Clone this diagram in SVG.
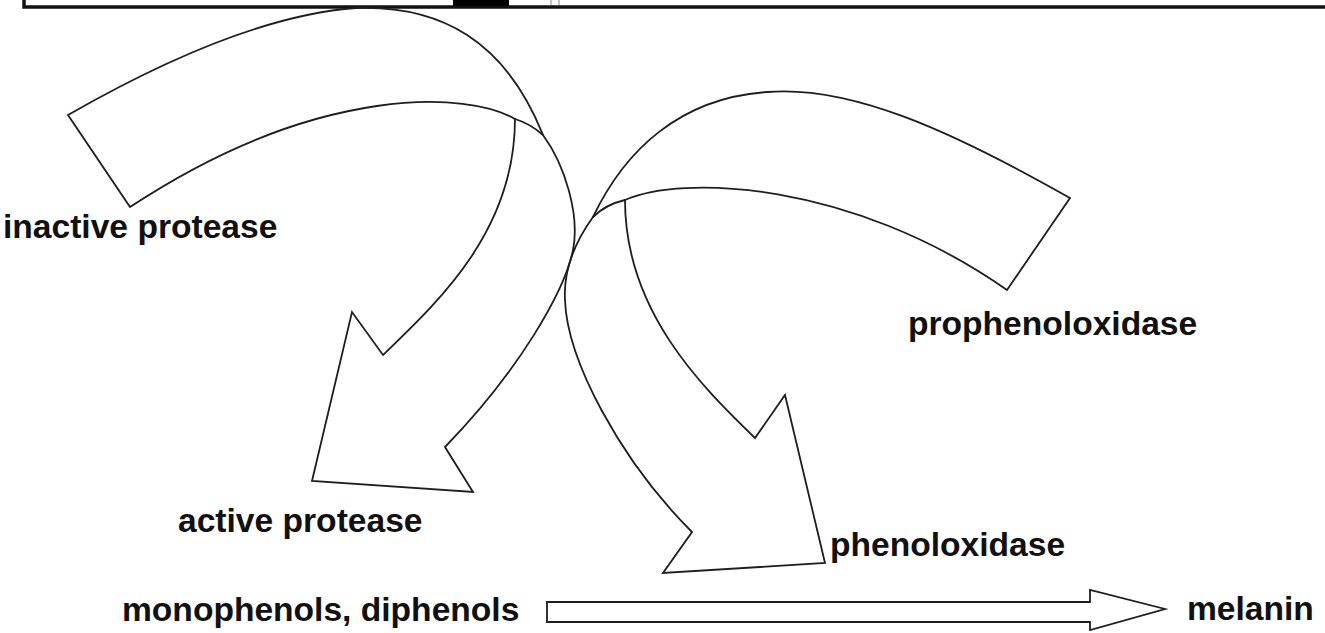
<svg xmlns="http://www.w3.org/2000/svg" width="1325" height="633" viewBox="0 0 1325 633">
<style>
.arr{fill:none;stroke:#1e1e1e;stroke-width:1.8;stroke-linejoin:miter;stroke-linecap:round}
.lbl{font-family:"Liberation Sans",Arial,Helvetica,sans-serif;font-weight:bold;font-size:33.6px;fill:#111}
</style>
<rect width="1325" height="633" fill="#fff"/>
<g id="frame">
<path d="M24,-5 V7 H1330" fill="none" stroke="#111" stroke-width="3.5"/>
<rect x="453" y="-2" width="56" height="8" fill="#000"/>
<path d="M551,0 V5 M559,0 V5" stroke="#888" stroke-width="1"/>
</g>
<g id="connectors">
<g id="arrow-protease">
<path class="arr" d="M68,115 C150,68 260,15 356,8 C440,5 505,40 543,135 C565,165 580,215 573,250 C565,290 520,370 445,447 L473,492 L312,481 L352,312 L383,355 C440,300 515,230 515,119 C470,92 320,82 130,207 Z"/>
<path class="arr" d="M515,119 C525,122 535,128 543,135"/>
</g>
<g id="arrow-phenoloxidase">
<path class="arr" d="M1070,198 C950,130 850,85 767,92 C680,98 625,150 593,217 C580,235 563,265 565,300 C567,360 620,460 692,532 L663,573 L825,563 L785,395 L755,438 C700,385 625,310 625,200 C680,175 850,180 1007,290 Z"/>
<path class="arr" d="M625,200 C612,203 600,210 593,217"/>
</g>
<g id="arrow-melanin">
<path class="arr" stroke-width="2" d="M547,602 H1090 V590 L1165,609 L1090,630 V622 H547 Z"/>
</g>
</g>
<g id="node-inactive-protease"><text class="lbl" x="3" y="238">inactive protease</text></g>
<g id="node-prophenoloxidase"><text class="lbl" x="908" y="335">prophenoloxidase</text></g>
<g id="node-active-protease"><text class="lbl" x="178" y="532">active protease</text></g>
<g id="node-phenoloxidase"><text class="lbl" x="830" y="556">phenoloxidase</text></g>
<g id="node-phenols"><text class="lbl" x="122" y="621">monophenols, diphenols</text></g>
<g id="node-melanin"><text class="lbl" x="1187" y="620">melanin</text></g>
</svg>
